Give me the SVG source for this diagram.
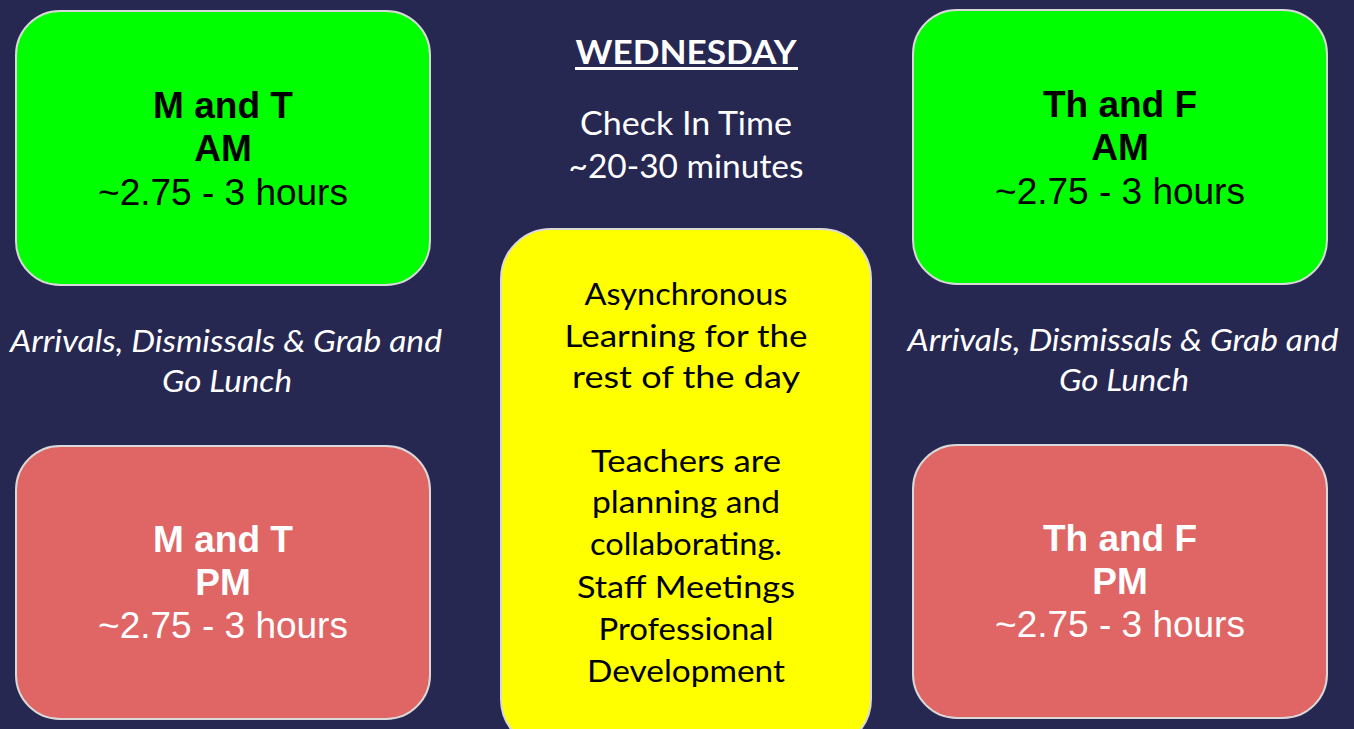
<svg xmlns="http://www.w3.org/2000/svg" width="1354" height="729" viewBox="0 0 1354 729">
<style>
.box{stroke:#d9d9d9;stroke-width:2}
.g{fill:#00ff00}
.r{fill:#e06666}
.y{fill:#ffff00}
.t{font-family:"Liberation Sans",Arial,sans-serif;font-size:37px;text-anchor:middle}
.b{font-weight:bold}
.hum{font-family:Lato,"Open Sans",sans-serif;text-anchor:middle}
.w{fill:#ffffff}
.k{fill:#000000}
.it{font-style:italic;font-size:31px}
.mid{font-size:33px}
.yl{font-size:30px}
</style>
<rect x="0" y="0" width="1354" height="729" fill="#272852"/>
<g id="heading">
<text class="hum w b" x="686" y="64" font-size="33" textLength="221" lengthAdjust="spacingAndGlyphs">WEDNESDAY</text>
<rect x="575" y="67" width="223" height="3" fill="#ffffff"/>
<text class="hum w mid" x="686" y="135" textLength="212" lengthAdjust="spacingAndGlyphs">Check In Time</text>
<text class="hum w mid" x="686" y="178" textLength="235" lengthAdjust="spacingAndGlyphs">~20-30 minutes</text>
</g>
<g id="mt-am">
<rect class="box g" x="16" y="11" width="414" height="274" rx="44"/>
<text class="t k b" x="223" y="118">M and T</text>
<text class="t k b" x="223" y="161">AM</text>
<text class="t k" x="223" y="205">~2.75 - 3 hours</text>
</g>
<g id="thf-am">
<rect class="box g" x="913" y="10" width="414" height="274" rx="44"/>
<text class="t k b" x="1120" y="117">Th and F</text>
<text class="t k b" x="1120" y="160">AM</text>
<text class="t k" x="1120" y="204">~2.75 - 3 hours</text>
</g>
<g id="mt-pm">
<rect class="box r" x="16" y="446" width="414" height="273" rx="44"/>
<text class="t w b" x="223" y="552">M and T</text>
<text class="t w b" x="223" y="595">PM</text>
<text class="t w" x="223" y="638">~2.75 - 3 hours</text>
</g>
<g id="thf-pm">
<rect class="box r" x="913" y="445" width="414" height="273" rx="44"/>
<text class="t w b" x="1120" y="551">Th and F</text>
<text class="t w b" x="1120" y="594">PM</text>
<text class="t w" x="1120" y="637">~2.75 - 3 hours</text>
</g>
<g id="left-note">
<text class="hum w it" x="226" y="352" textLength="432" lengthAdjust="spacingAndGlyphs">Arrivals, Dismissals &amp; Grab and</text>
<text class="hum w it" x="227" y="392" textLength="130" lengthAdjust="spacingAndGlyphs">Go Lunch</text>
</g>
<g id="right-note">
<text class="hum w it" x="1123" y="351" textLength="431" lengthAdjust="spacingAndGlyphs">Arrivals, Dismissals &amp; Grab and</text>
<text class="hum w it" x="1124" y="391" textLength="130" lengthAdjust="spacingAndGlyphs">Go Lunch</text>
</g>
<g id="async">
<rect class="box y" x="501" y="229" width="370" height="520" rx="50"/>
<text class="hum k yl" x="686" y="305" textLength="203" lengthAdjust="spacingAndGlyphs">Asynchronous</text>
<text class="hum k yl" x="686" y="347" textLength="243" lengthAdjust="spacingAndGlyphs">Learning for the</text>
<text class="hum k yl" x="686" y="388" textLength="228" lengthAdjust="spacingAndGlyphs">rest of the day</text>
<text class="hum k yl" x="686" y="472" textLength="190" lengthAdjust="spacingAndGlyphs">Teachers are</text>
<text class="hum k yl" x="686" y="513" textLength="188" lengthAdjust="spacingAndGlyphs">planning and</text>
<text class="hum k yl" x="686" y="555" textLength="192" lengthAdjust="spacingAndGlyphs">collaborating.</text>
<text class="hum k yl" x="686" y="598" textLength="218" lengthAdjust="spacingAndGlyphs">Staff Meetings</text>
<text class="hum k yl" x="686" y="640" textLength="175" lengthAdjust="spacingAndGlyphs">Professional</text>
<text class="hum k yl" x="686" y="682" textLength="198" lengthAdjust="spacingAndGlyphs">Development</text>
</g>
</svg>
